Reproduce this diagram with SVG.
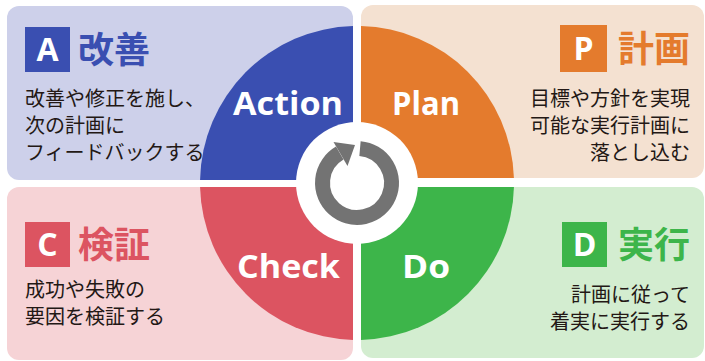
<svg xmlns="http://www.w3.org/2000/svg" width="705" height="361" viewBox="0 0 705 361">
<style>
.body{font-family:"Noto Sans CJK JP","Noto Sans",sans-serif;font-size:20px;fill:#231815}
.ttl{font-family:"Noto Sans CJK JP","Noto Sans",sans-serif;font-size:36px;font-weight:bold}
.ltr{font-family:"Open Sans","Noto Sans",sans-serif;font-size:32px;font-weight:bold;fill:#fff;text-anchor:middle}
.lbl{font-family:"Open Sans","Noto Sans",sans-serif;font-size:33px;font-weight:bold;fill:#fff}
.r{text-anchor:end}
</style>
<rect width="705" height="361" fill="#fff"/>
<g id="action">
<rect x="7" y="6" width="346" height="174" rx="12" fill="#cdd0ea"/>
<path d="M353,180 L353,26.05 A157,157 0 0 0 200.05,180 Z" fill="#3a4fb1"/>
<rect x="25" y="27" width="45" height="45" fill="#3a4fb1"/>
<text class="ltr" x="47.5" y="61">A</text>
<text class="ttl" x="78" y="63" fill="#3a4fb1">改善</text>
<text class="body" x="25" y="106">改善や修正を施し、</text>
<text class="body" x="25" y="133">次の計画に</text>
<text class="body" x="25" y="160">フィードバックする</text>
<text class="lbl" x="233" y="115" textLength="110" lengthAdjust="spacingAndGlyphs">Action</text>
</g>
<g id="plan">
<rect x="361" y="5" width="343" height="173" rx="12" fill="#f4e1d1"/>
<path d="M361,178 L361,26.05 A157,157 0 0 1 513.92,178 Z" fill="#e47b2d"/>
<rect x="560" y="25" width="47" height="47" fill="#e47b2d"/>
<text class="ltr" x="583.5" y="60">P</text>
<text class="ttl" x="690" y="62" fill="#e47b2d" text-anchor="end">計画</text>
<text class="body r" x="690" y="106">目標や方針を実現</text>
<text class="body r" x="690" y="133">可能な実行計画に</text>
<text class="body r" x="690" y="160">落とし込む</text>
<text class="lbl" x="392" y="115" textLength="68" lengthAdjust="spacingAndGlyphs">Plan</text>
</g>
<g id="check">
<rect x="7" y="187" width="346" height="173" rx="12" fill="#f6d3d6"/>
<path d="M353,187 L200.05,187 A157,157 0 0 0 353,339.95 Z" fill="#dc5461"/>
<rect x="25" y="222" width="45" height="45" fill="#dc5461"/>
<text class="ltr" x="47.5" y="256">C</text>
<text class="ttl" x="78" y="258" fill="#dc5461">検証</text>
<text class="body" x="25" y="297">成功や失敗の</text>
<text class="body" x="25" y="324">要因を検証する</text>
<text class="lbl" x="237" y="278" textLength="103" lengthAdjust="spacingAndGlyphs">Check</text>
</g>
<g id="do">
<rect x="361" y="187" width="343" height="171" rx="12" fill="#d3edd0"/>
<path d="M361,187 L513.95,187 A157,157 0 0 1 361,339.95 Z" fill="#3db54a"/>
<rect x="562" y="222" width="45" height="45" fill="#3db54a"/>
<text class="ltr" x="584.5" y="256">D</text>
<text class="ttl" x="690" y="258" fill="#3db54a" text-anchor="end">実行</text>
<text class="body r" x="690" y="302">計画に従って</text>
<text class="body r" x="690" y="329">着実に実行する</text>
<text class="lbl" x="402" y="278" textLength="48" lengthAdjust="spacingAndGlyphs">Do</text>
</g>
<g id="cycle">
<circle cx="357" cy="183" r="61" fill="#fff"/>
<path d="M360.0,148.6 A34.5,34.5 0 1 1 339.75,153.1" fill="none" stroke="#737373" stroke-width="15"/>
<polygon points="333.5,142 355,145 347.5,166" fill="#737373"/>
</g>
</svg>
